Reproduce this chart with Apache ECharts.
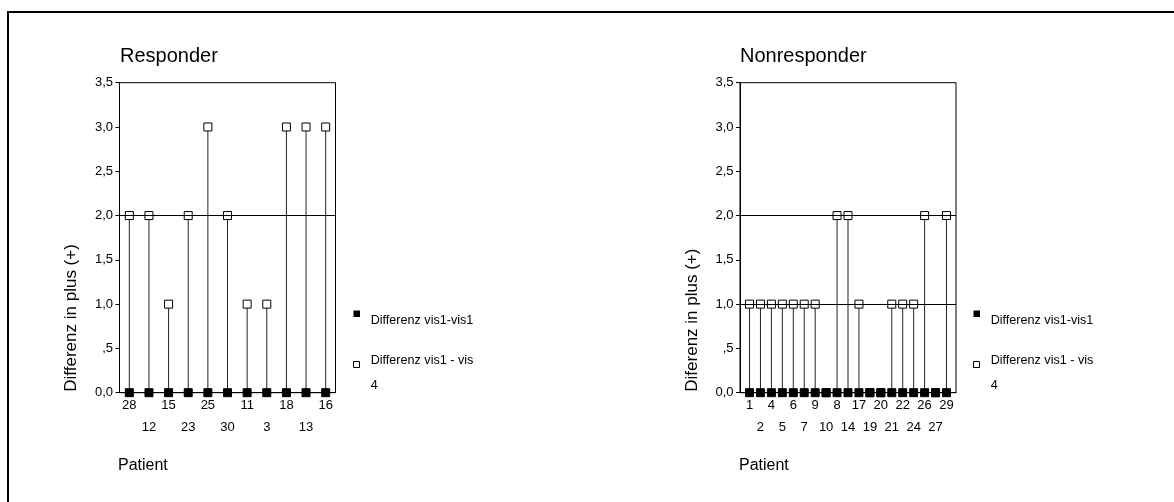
<!DOCTYPE html>
<html>
<head>
<meta charset="utf-8">
<script src="https://cdn.jsdelivr.net/npm/echarts@6/dist/echarts.min.js"></script>
<style>html,body{margin:0;padding:0;background:#fff}#c{width:1174px;height:502px}</style>
</head>
<body>
<div id="c"></div>
<script>
// ---- data ----
const leftCategories = ['28','12','15','23','25','30','11','3','18','13','16'];
const leftVis1Vis4 = [2,2,1,2,3,2,1,1,3,3,3];
const leftVis1Vis1 = [0,0,0,0,0,0,0,0,0,0,0];
const rightCategories = ['1','2','4','5','6','7','9','10','8','14','17','19','20','21','22','24','26','27','29'];
const rightVis1Vis4 = [1,1,1,1,1,1,1,0,2,2,1,0,0,1,1,1,2,0,2];
const rightVis1Vis1 = [0,0,0,0,0,0,0,0,0,0,0,0,0,0,0,0,0,0,0];
const yTickLabels = ['0,0', ',5', '1,0', '1,5', '2,0', '2,5', '3,0', '3,5'];
const leftRefLines = [2];
const rightRefLines = [1, 2];
const legendNames = ['Differenz vis1-vis1', 'Differenz vis1 - vis\n4'];

const FONT = 'Arial, "Liberation Sans", sans-serif';
const chart = echarts.init(document.getElementById('c'));

function pairs(vals) { return vals.map(function (v, i) { return [i, v]; }); }

// two staggered label rows: even positions on the first row, odd positions on the second row
function xAxesFor(cats, gridIndex, pad) {
  const even = [], odd = [];
  cats.forEach(function (c, i) { (i % 2 === 0 ? even : odd).push(i); });
  function make(values, offset, showLine) {
    return {
      type: 'value', gridIndex: gridIndex, position: 'bottom', offset: offset,
      min: -pad, max: cats.length - 1 + pad,
      axisLine: {show: showLine, onZero: false, lineStyle: {color: '#000', width: 1}},
      axisTick: {show: false},
      axisLabel: {
        color: '#000', fontFamily: FONT, fontSize: 13, margin: 1, lineHeight: 22.7,
        customValues: values, hideOverlap: false,
        formatter: function (v) { return cats[Math.round(v)]; }
      },
      splitLine: {show: false}
    };
  }
  return [make(even, 0, true), make(odd, 22.7, false)];
}
function yAxisFor(gridIndex) {
  return {
    type: 'value', gridIndex: gridIndex, min: 0, max: 3.5, interval: 0.5,
    axisLine: {show: true, onZero: false, lineStyle: {color: '#000', width: 1}},
    axisTick: {show: true, length: 4, inside: false, lineStyle: {color: '#000'}},
    axisLabel: {
      color: '#000', fontFamily: FONT, fontSize: 13, margin: 6.5,
      formatter: function (v) { return yTickLabels[Math.round(v / 0.5)]; }
    },
    splitLine: {show: false}
  };
}
function seriesFor(vis4, vis1, refs, xIdx, yIdx) {
  return [
    {
      type: 'bar', xAxisIndex: xIdx, yAxisIndex: yIdx, data: pairs(vis4), barWidth: 1,
      itemStyle: {color: '#222'}, silent: true, z: 2
    },
    {
      type: 'scatter', name: legendNames[1], xAxisIndex: xIdx, yAxisIndex: yIdx, data: pairs(vis4),
      symbol: 'rect', symbolSize: 8,
      itemStyle: {color: '#fff', borderColor: '#000', borderWidth: 1, opacity: 1}, z: 4,
      markLine: {
        silent: true, symbol: 'none', label: {show: false},
        lineStyle: {color: '#000', width: 1, type: 'solid'},
        data: refs.map(function (r) { return {yAxis: r}; })
      }
    },
    {
      type: 'scatter', name: legendNames[0], xAxisIndex: xIdx, yAxisIndex: yIdx, data: pairs(vis1),
      symbol: 'rect', symbolSize: 8,
      itemStyle: {color: '#000', borderColor: '#000', borderWidth: 1, opacity: 1}, z: 5
    }
  ];
}
function legendGraphic(dx) {
  return [
    {type: 'rect', shape: {x: 353.5 + dx, y: 310.5, width: 6.5, height: 6.5}, style: {fill: '#000'}},
    {type: 'text', x: 370.7 + dx, y: 321, style: {text: legendNames[0], font: '12.6px ' + FONT, fill: '#000', textVerticalAlign: 'middle'}},
    {type: 'rect', shape: {x: 353.5 + dx, y: 361.5, width: 6, height: 6}, style: {fill: '#fff', stroke: '#000', lineWidth: 1}},
    {type: 'text', x: 370.7 + dx, y: 347.2, style: {text: legendNames[1], font: '12.6px ' + FONT, fill: '#000', lineHeight: 25.7}}
  ];
}

const option = {
  animation: false,
  backgroundColor: '#fff',
  title: [
    {text: 'Responder', left: 115, top: 41, textStyle: {fontFamily: FONT, fontSize: 20, fontWeight: 'normal', color: '#000'}},
    {text: 'Nonresponder', left: 735, top: 41, textStyle: {fontFamily: FONT, fontSize: 20, fontWeight: 'normal', color: '#000'}}
  ],
  grid: [
    {left: 119.5, top: 82.7, width: 216, height: 310, show: true, borderColor: '#000', borderWidth: 1, backgroundColor: 'transparent'},
    {left: 740, top: 82.7, width: 216, height: 310, show: true, borderColor: '#000', borderWidth: 1, backgroundColor: 'transparent'}
  ],
  xAxis: xAxesFor(leftCategories, 0, 0.5).concat(xAxesFor(rightCategories, 1, 0.87)),
  yAxis: [yAxisFor(0), yAxisFor(1)],
  series: seriesFor(leftVis1Vis4, leftVis1Vis1, leftRefLines, 0, 0)
    .concat(seriesFor(rightVis1Vis4, rightVis1Vis1, rightRefLines, 2, 1)),
  graphic: [
    {type: 'line', shape: {x1: 8, y1: 12, x2: 1180, y2: 12}, style: {stroke: '#000', lineWidth: 2}},
    {type: 'line', shape: {x1: 8, y1: 11, x2: 8, y2: 510}, style: {stroke: '#000', lineWidth: 2}},
    {type: 'text', x: 71.7, y: 391.7, rotation: Math.PI / 2,
      style: {text: 'Differenz in plus (+)', font: '17px ' + FONT, fill: '#000', textAlign: 'left', textVerticalAlign: 'middle'}},
    {type: 'text', x: 692.7, y: 391.7, rotation: Math.PI / 2,
      style: {text: 'Diferenz in plus (+)', font: '17px ' + FONT, fill: '#000', textAlign: 'left', textVerticalAlign: 'middle'}},
    {type: 'text', x: 118, y: 466, style: {text: 'Patient', font: '16px ' + FONT, fill: '#000', textVerticalAlign: 'middle'}},
    {type: 'text', x: 739, y: 466, style: {text: 'Patient', font: '16px ' + FONT, fill: '#000', textVerticalAlign: 'middle'}}
  ].concat(legendGraphic(0)).concat(legendGraphic(620))
};
chart.setOption(option);
</script>
</body>
</html>
